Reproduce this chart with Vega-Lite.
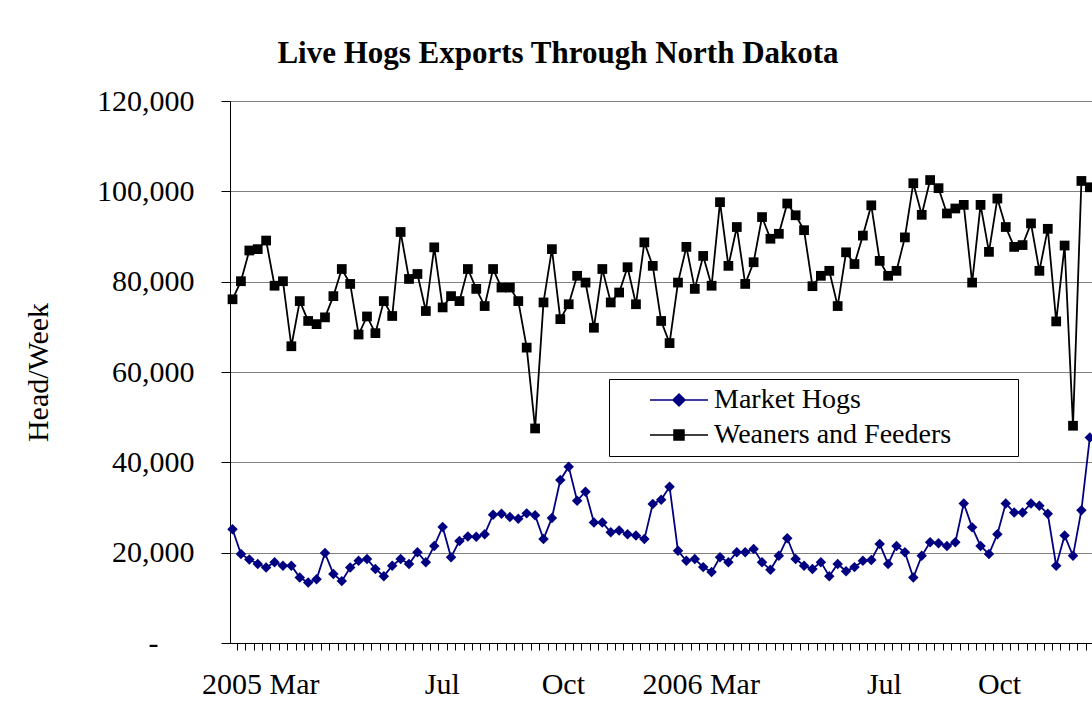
{
  "$schema": "https://vega.github.io/schema/vega-lite/v6.json",
  "autosize": {"type": "none"},
  "padding": {"left": 230, "top": 101, "right": 0, "bottom": 59},
  "width": 862,
  "height": 542,
  "background": "white",
  "config": {"font": "Liberation Serif", "view": {"stroke": null}},
  "title": {"text": "Live Hogs Exports Through North Dakota", "font": "Liberation Serif", "fontSize": 31, "fontWeight": "bold", "color": "black", "anchor": "middle", "dx": -103, "dy": 32, "baseline": "alphabetic", "offset": 24},
  "data": {"values": [
    {"week":1,"series":"Market Hogs","head":25200},{"week":2,"series":"Market Hogs","head":19700},{"week":3,"series":"Market Hogs","head":18500},{"week":4,"series":"Market Hogs","head":17500},{"week":5,"series":"Market Hogs","head":16700},{"week":6,"series":"Market Hogs","head":17900},{"week":7,"series":"Market Hogs","head":17100},{"week":8,"series":"Market Hogs","head":17100},{"week":9,"series":"Market Hogs","head":14500},{"week":10,"series":"Market Hogs","head":13400},
    {"week":11,"series":"Market Hogs","head":14100},{"week":12,"series":"Market Hogs","head":19900},{"week":13,"series":"Market Hogs","head":15300},{"week":14,"series":"Market Hogs","head":13700},{"week":15,"series":"Market Hogs","head":16700},{"week":16,"series":"Market Hogs","head":18200},{"week":17,"series":"Market Hogs","head":18600},{"week":18,"series":"Market Hogs","head":16400},{"week":19,"series":"Market Hogs","head":14800},{"week":20,"series":"Market Hogs","head":17100},
    {"week":21,"series":"Market Hogs","head":18600},{"week":22,"series":"Market Hogs","head":17500},{"week":23,"series":"Market Hogs","head":20100},{"week":24,"series":"Market Hogs","head":17900},{"week":25,"series":"Market Hogs","head":21500},{"week":26,"series":"Market Hogs","head":25700},{"week":27,"series":"Market Hogs","head":19000},{"week":28,"series":"Market Hogs","head":22600},{"week":29,"series":"Market Hogs","head":23600},{"week":30,"series":"Market Hogs","head":23500},
    {"week":31,"series":"Market Hogs","head":24100},{"week":32,"series":"Market Hogs","head":28400},{"week":33,"series":"Market Hogs","head":28600},{"week":34,"series":"Market Hogs","head":27900},{"week":35,"series":"Market Hogs","head":27500},{"week":36,"series":"Market Hogs","head":28700},{"week":37,"series":"Market Hogs","head":28300},{"week":38,"series":"Market Hogs","head":23000},{"week":39,"series":"Market Hogs","head":27700},{"week":40,"series":"Market Hogs","head":36100},
    {"week":41,"series":"Market Hogs","head":39000},{"week":42,"series":"Market Hogs","head":31500},{"week":43,"series":"Market Hogs","head":33500},{"week":44,"series":"Market Hogs","head":26700},{"week":45,"series":"Market Hogs","head":26700},{"week":46,"series":"Market Hogs","head":24500},{"week":47,"series":"Market Hogs","head":24900},{"week":48,"series":"Market Hogs","head":24100},{"week":49,"series":"Market Hogs","head":23800},{"week":50,"series":"Market Hogs","head":23000},
    {"week":51,"series":"Market Hogs","head":30800},{"week":52,"series":"Market Hogs","head":31700},{"week":53,"series":"Market Hogs","head":34600},{"week":54,"series":"Market Hogs","head":20400},{"week":55,"series":"Market Hogs","head":18200},{"week":56,"series":"Market Hogs","head":18600},{"week":57,"series":"Market Hogs","head":16800},{"week":58,"series":"Market Hogs","head":15700},{"week":59,"series":"Market Hogs","head":19000},{"week":60,"series":"Market Hogs","head":17900},
    {"week":61,"series":"Market Hogs","head":20100},{"week":62,"series":"Market Hogs","head":20100},{"week":63,"series":"Market Hogs","head":20800},{"week":64,"series":"Market Hogs","head":17900},{"week":65,"series":"Market Hogs","head":16200},{"week":66,"series":"Market Hogs","head":19300},{"week":67,"series":"Market Hogs","head":23200},{"week":68,"series":"Market Hogs","head":18600},{"week":69,"series":"Market Hogs","head":17100},{"week":70,"series":"Market Hogs","head":16400},
    {"week":71,"series":"Market Hogs","head":17900},{"week":72,"series":"Market Hogs","head":14800},{"week":73,"series":"Market Hogs","head":17500},{"week":74,"series":"Market Hogs","head":15900},{"week":75,"series":"Market Hogs","head":16800},{"week":76,"series":"Market Hogs","head":18200},{"week":77,"series":"Market Hogs","head":18400},{"week":78,"series":"Market Hogs","head":21900},{"week":79,"series":"Market Hogs","head":17500},{"week":80,"series":"Market Hogs","head":21500},
    {"week":81,"series":"Market Hogs","head":20100},{"week":82,"series":"Market Hogs","head":14500},{"week":83,"series":"Market Hogs","head":19300},{"week":84,"series":"Market Hogs","head":22300},{"week":85,"series":"Market Hogs","head":22100},{"week":86,"series":"Market Hogs","head":21500},{"week":87,"series":"Market Hogs","head":22300},{"week":88,"series":"Market Hogs","head":30900},{"week":89,"series":"Market Hogs","head":25600},{"week":90,"series":"Market Hogs","head":21500},
    {"week":91,"series":"Market Hogs","head":19700},{"week":92,"series":"Market Hogs","head":24100},{"week":93,"series":"Market Hogs","head":30900},{"week":94,"series":"Market Hogs","head":28900},{"week":95,"series":"Market Hogs","head":28900},{"week":96,"series":"Market Hogs","head":30900},{"week":97,"series":"Market Hogs","head":30400},{"week":98,"series":"Market Hogs","head":28600},{"week":99,"series":"Market Hogs","head":17100},{"week":100,"series":"Market Hogs","head":23800},
    {"week":101,"series":"Market Hogs","head":19300},{"week":102,"series":"Market Hogs","head":29400},{"week":103,"series":"Market Hogs","head":45500},
    {"week":1,"series":"Weaners and Feeders","head":76100},{"week":2,"series":"Weaners and Feeders","head":80100},{"week":3,"series":"Weaners and Feeders","head":86900},{"week":4,"series":"Weaners and Feeders","head":87200},{"week":5,"series":"Weaners and Feeders","head":89100},{"week":6,"series":"Weaners and Feeders","head":79100},{"week":7,"series":"Weaners and Feeders","head":80100},{"week":8,"series":"Weaners and Feeders","head":65700},{"week":9,"series":"Weaners and Feeders","head":75700},{"week":10,"series":"Weaners and Feeders","head":71300},
    {"week":11,"series":"Weaners and Feeders","head":70600},{"week":12,"series":"Weaners and Feeders","head":72100},{"week":13,"series":"Weaners and Feeders","head":76800},{"week":14,"series":"Weaners and Feeders","head":82800},{"week":15,"series":"Weaners and Feeders","head":79500},{"week":16,"series":"Weaners and Feeders","head":68300},{"week":17,"series":"Weaners and Feeders","head":72300},{"week":18,"series":"Weaners and Feeders","head":68600},{"week":19,"series":"Weaners and Feeders","head":75700},{"week":20,"series":"Weaners and Feeders","head":72400},
    {"week":21,"series":"Weaners and Feeders","head":91000},{"week":22,"series":"Weaners and Feeders","head":80600},{"week":23,"series":"Weaners and Feeders","head":81700},{"week":24,"series":"Weaners and Feeders","head":73500},{"week":25,"series":"Weaners and Feeders","head":87600},{"week":26,"series":"Weaners and Feeders","head":74300},{"week":27,"series":"Weaners and Feeders","head":76800},{"week":28,"series":"Weaners and Feeders","head":75700},{"week":29,"series":"Weaners and Feeders","head":82800},{"week":30,"series":"Weaners and Feeders","head":78400},
    {"week":31,"series":"Weaners and Feeders","head":74600},{"week":32,"series":"Weaners and Feeders","head":82800},{"week":33,"series":"Weaners and Feeders","head":78700},{"week":34,"series":"Weaners and Feeders","head":78700},{"week":35,"series":"Weaners and Feeders","head":75700},{"week":36,"series":"Weaners and Feeders","head":65400},{"week":37,"series":"Weaners and Feeders","head":47500},{"week":38,"series":"Weaners and Feeders","head":75400},{"week":39,"series":"Weaners and Feeders","head":87200},{"week":40,"series":"Weaners and Feeders","head":71700},
    {"week":41,"series":"Weaners and Feeders","head":75000},{"week":42,"series":"Weaners and Feeders","head":81300},{"week":43,"series":"Weaners and Feeders","head":79800},{"week":44,"series":"Weaners and Feeders","head":69800},{"week":45,"series":"Weaners and Feeders","head":82800},{"week":46,"series":"Weaners and Feeders","head":75400},{"week":47,"series":"Weaners and Feeders","head":77600},{"week":48,"series":"Weaners and Feeders","head":83200},{"week":49,"series":"Weaners and Feeders","head":75000},{"week":50,"series":"Weaners and Feeders","head":88700},
    {"week":51,"series":"Weaners and Feeders","head":83500},{"week":52,"series":"Weaners and Feeders","head":71300},{"week":53,"series":"Weaners and Feeders","head":66400},{"week":54,"series":"Weaners and Feeders","head":79800},{"week":55,"series":"Weaners and Feeders","head":87700},{"week":56,"series":"Weaners and Feeders","head":78400},{"week":57,"series":"Weaners and Feeders","head":85700},{"week":58,"series":"Weaners and Feeders","head":79100},{"week":59,"series":"Weaners and Feeders","head":97600},{"week":60,"series":"Weaners and Feeders","head":83500},
    {"week":61,"series":"Weaners and Feeders","head":92100},{"week":62,"series":"Weaners and Feeders","head":79500},{"week":63,"series":"Weaners and Feeders","head":84300},{"week":64,"series":"Weaners and Feeders","head":94300},{"week":65,"series":"Weaners and Feeders","head":89500},{"week":66,"series":"Weaners and Feeders","head":90600},{"week":67,"series":"Weaners and Feeders","head":97300},{"week":68,"series":"Weaners and Feeders","head":94700},{"week":69,"series":"Weaners and Feeders","head":91400},{"week":70,"series":"Weaners and Feeders","head":79000},
    {"week":71,"series":"Weaners and Feeders","head":81300},{"week":72,"series":"Weaners and Feeders","head":82400},{"week":73,"series":"Weaners and Feeders","head":74600},{"week":74,"series":"Weaners and Feeders","head":86500},{"week":75,"series":"Weaners and Feeders","head":83900},{"week":76,"series":"Weaners and Feeders","head":90200},{"week":77,"series":"Weaners and Feeders","head":96900},{"week":78,"series":"Weaners and Feeders","head":84600},{"week":79,"series":"Weaners and Feeders","head":81300},{"week":80,"series":"Weaners and Feeders","head":82400},
    {"week":81,"series":"Weaners and Feeders","head":89800},{"week":82,"series":"Weaners and Feeders","head":101800},{"week":83,"series":"Weaners and Feeders","head":94800},{"week":84,"series":"Weaners and Feeders","head":102500},{"week":85,"series":"Weaners and Feeders","head":100700},{"week":86,"series":"Weaners and Feeders","head":95100},{"week":87,"series":"Weaners and Feeders","head":96200},{"week":88,"series":"Weaners and Feeders","head":97000},{"week":89,"series":"Weaners and Feeders","head":79800},{"week":90,"series":"Weaners and Feeders","head":97000},
    {"week":91,"series":"Weaners and Feeders","head":86600},{"week":92,"series":"Weaners and Feeders","head":98400},{"week":93,"series":"Weaners and Feeders","head":92100},{"week":94,"series":"Weaners and Feeders","head":87700},{"week":95,"series":"Weaners and Feeders","head":88100},{"week":96,"series":"Weaners and Feeders","head":92900},{"week":97,"series":"Weaners and Feeders","head":82400},{"week":98,"series":"Weaners and Feeders","head":91700},{"week":99,"series":"Weaners and Feeders","head":71200},{"week":100,"series":"Weaners and Feeders","head":88000},
    {"week":101,"series":"Weaners and Feeders","head":48100},{"week":102,"series":"Weaners and Feeders","head":102300},{"week":103,"series":"Weaners and Feeders","head":100900}
  ]},
  "encoding": {
    "x": {"field": "week", "type": "quantitative",
      "scale": {"domain": [0.7, 103.26], "nice": false, "zero": false},
      "axis": {"title": null, "grid": false,
        "values": [1.5,2.5,3.5,4.5,5.5,6.5,7.5,8.5,9.5,10.5,11.5,12.5,13.5,14.5,15.5,16.5,17.5,18.5,19.5,20.5,21.5,22.5,23.5,24.5,25.5,26.5,27.5,28.5,29.5,30.5,31.5,32.5,33.5,34.5,35.5,36.5,37.5,38.5,39.5,40.5,41.5,42.5,43.5,44.5,45.5,46.5,47.5,48.5,49.5,50.5,51.5,52.5,53.5,54.5,55.5,56.5,57.5,58.5,59.5,60.5,61.5,62.5,63.5,64.5,65.5,66.5,67.5,68.5,69.5,70.5,71.5,72.5,73.5,74.5,75.5,76.5,77.5,78.5,79.5,80.5,81.5,82.5,83.5,84.5,85.5,86.5,87.5,88.5,89.5,90.5,91.5,92.5,93.5,94.5,95.5,96.5,97.5,98.5,99.5,100.5,101.5,102.5,4.3,25.9,40.3,56.7,78.5,92.2],
        "labelExpr": "datum.value == 4.3 ? '2005 Mar' : datum.value == 25.9 ? 'Jul' : datum.value == 40.3 ? 'Oct' : datum.value == 56.7 ? '2006 Mar' : datum.value == 78.5 ? 'Jul' : datum.value == 92.2 ? 'Oct' : ''",
        "tickOpacity": {"condition": {"test": "datum.value % 1 !== 0.5", "value": 0}, "value": 1},
        "labelOverlap": false, "labelFlush": false, "labelBound": false,
        "domainColor": "black", "domainWidth": 1, "tickColor": "black", "tickWidth": 1, "tickSize": 7,
        "labelPadding": 19, "labelFont": "Liberation Serif", "labelFontSize": 30, "labelColor": "black"}},
    "y": {"field": "head", "type": "quantitative",
      "scale": {"domain": [0, 120000], "nice": false},
      "axis": {"title": "Head/Week", "values": [0,20000,40000,60000,80000,100000,120000],
        "labelExpr": "datum.value === 0 ? '-' : format(datum.value, ',')",
        "labelPadding": {"condition": {"test": "datum.value === 0", "value": 63}, "value": 27},
        "grid": true, "gridColor": "#808080", "gridWidth": 1,
        "domainColor": "black", "domainWidth": 1, "tickColor": "black", "tickSize": 9, "tickWidth": 1,
        "labelFont": "Liberation Serif", "labelFontSize": 30, "labelColor": "black",
        "titleFont": "Liberation Serif", "titleFontSize": 30, "titleFontWeight": "normal", "titleColor": "black", "titlePadding": 43}},
    "color": {"field": "series", "type": "nominal", "scale": {"domain": ["Market Hogs", "Weaners and Feeders"], "range": ["#000080", "#000000"]},
      "legend": {"title": null, "orient": "none", "legendX": 379, "legendY": 278,
        "labelFont": "Liberation Serif", "labelFontSize": 28, "labelColor": "black", "labelLimit": 500,
        "strokeColor": "black", "fillColor": "white", "padding": 7, "rowPadding": 7,
        "symbolSize": 100, "symbolStrokeWidth": 1.5, "labelOffset": 70,
        "encode": {"symbols": {"update": {
          "shape": {"signal": "datum.value === 'Market Hogs' ? 'M4,0L15.6,0M9.8,-1.2L11,0L9.8,1.2L8.6,0ZM75.6,0' : 'M4,0L15.6,0M8.8,-1L10.8,-1L10.8,1L8.8,1ZM75.6,0'"},
          "fill": {"signal": "datum.value === 'Market Hogs' ? '#000080' : '#000000'"},
          "stroke": {"signal": "datum.value === 'Market Hogs' ? '#000080' : '#000000'"},
          "strokeWidth": {"value": 1.5},
          "opacity": {"value": 1}}}}}}
  },
  "layer": [
    {"mark": {"type": "line", "strokeWidth": 1.8}},
    {"transform": [{"filter": "datum.series === 'Market Hogs'"}],
     "mark": {"type": "point", "shape": "diamond", "filled": true, "opacity": 1, "size": 110}},
    {"transform": [{"filter": "datum.series !== 'Market Hogs'"}],
     "mark": {"type": "point", "shape": "square", "filled": true, "opacity": 1, "size": 95}}
  ]
}
